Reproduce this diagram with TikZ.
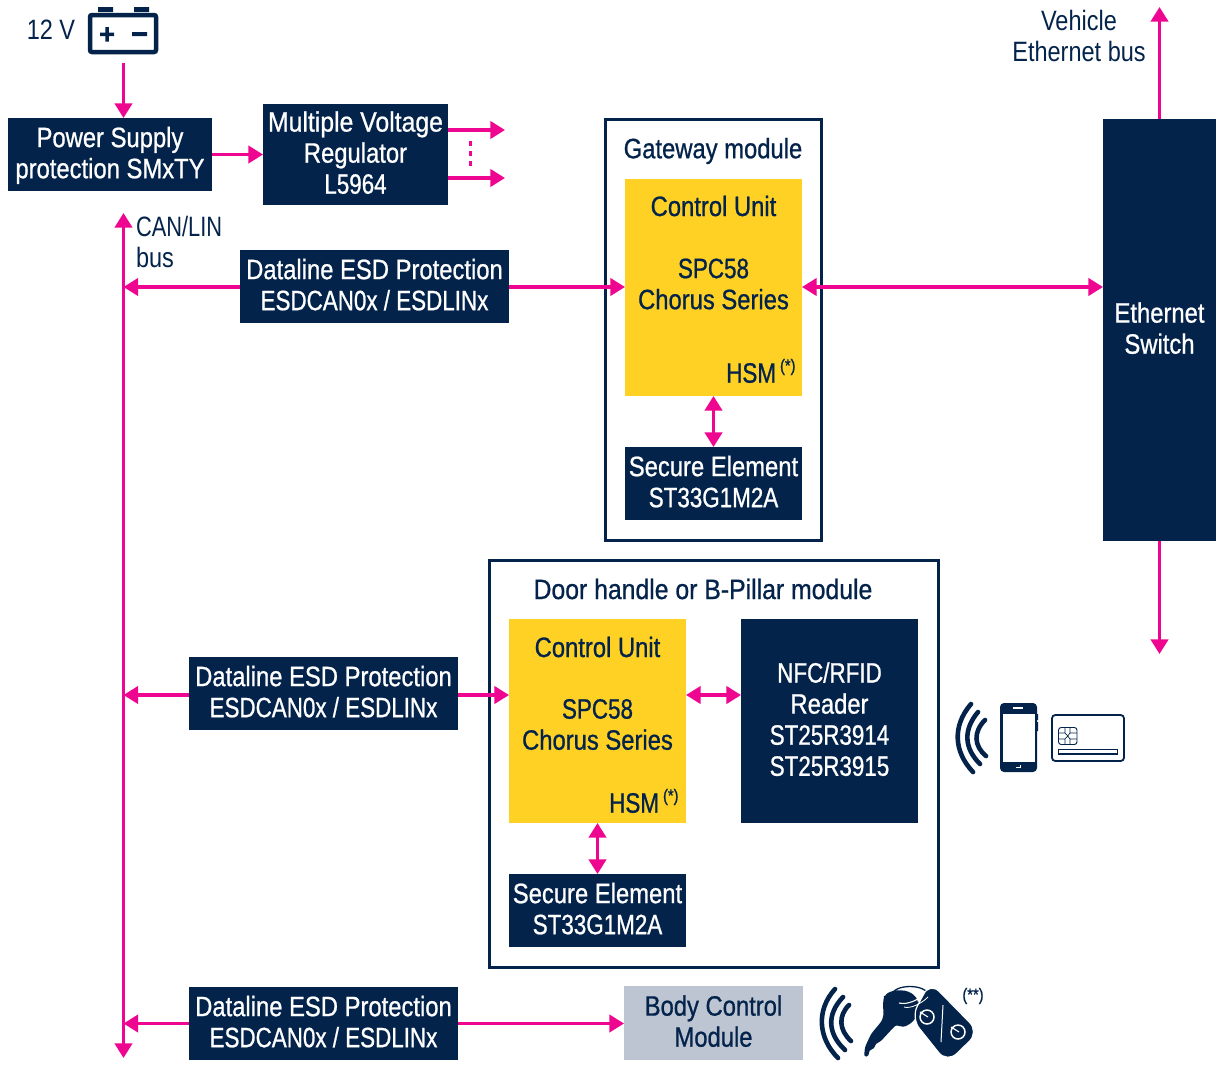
\documentclass[tikz,border=0pt]{standalone}
\usepackage{fontspec}
\usetikzlibrary{arrows.meta}
\setmainfont[FakeStretch=0.84]{Liberation Sans}
\newfontfamily\boxfont[FakeStretch=0.85,FakeBold=0.8]{Liberation Sans}
\newfontfamily\nar[FakeStretch=0.8,FakeBold=0.8]{Liberation Sans}
\newfontfamily\wid[FakeStretch=0.885,FakeBold=0.8]{Liberation Sans}
\newfontfamily\narplain[FakeStretch=0.78]{Liberation Sans}
\definecolor{navy}{HTML}{03234B}
\definecolor{gold}{HTML}{FFD124}
\definecolor{hotpink}{HTML}{EE0590}
\definecolor{greybox}{HTML}{BEC5D2}
\def\px{0.75pt}
\tikzset{
 x=0.75pt,y=-0.75pt,
 every node/.style={inner sep=0pt,outer sep=0pt},
 txt/.style={font=\fontsize{21}{23.3}\selectfont\boxfont,align=center},
 plain/.style={font=\fontsize{21}{23.3}\selectfont,text=navy},
 navybox/.style={txt,fill=navy,text=white,text depth=3pt,minimum width=#1*\px},
 goldbox/.style={fill=gold,minimum width=177*\px},
 frame/.style={draw=navy,line width=3*\px,fill=white},
 dark/.style={txt,text=navy},
 small/.style={font=\fontsize{13}{14}\selectfont\boxfont,text=navy},
 link/.style={draw=hotpink,line width=3.2*\px},
 one/.style={link,-{Triangle[length=11pt,width=13pt]}},
 both/.style={link,{Triangle[length=11pt,width=13pt]}-{Triangle[length=11pt,width=13pt]}},
 wave/.style={draw=navy,line width=4.6*\px,line cap=round},
}
\begin{document}
\begin{tikzpicture}
\useasboundingbox (0,0) rectangle (1219,1067);
% frames
\node[frame,minimum width=216*\px,minimum height=421*\px] (gw) at (713,329.5) {};
\node[frame,minimum width=449*\px,minimum height=407*\px] (door) at (713.5,763.5) {};
% boxes
\node[navybox=204,minimum height=73*\px] (psu) at (110,154.5) {Power Supply\\protection SMxTY};
\node[navybox=185,minimum height=101*\px] (mvr) at (355.5,154.5) {{\wid Multiple Voltage}\\Regulator\\{\nar L5964}};
\node[navybox=269,minimum height=73*\px] (esd1) at (374.5,286.5) {Dataline ESD Protection\\{\nar ESDCAN0x / ESDLINx}};
\node[navybox=269,minimum height=73*\px] (esd2) at (323.5,693.5) {Dataline ESD Protection\\{\nar ESDCAN0x / ESDLINx}};
\node[navybox=269,minimum height=73*\px] (esd3) at (323.5,1023.5) {Dataline ESD Protection\\{\nar ESDCAN0x / ESDLINx}};
\node[goldbox,minimum height=217*\px] (cu1) at (713.5,287.5) {};
\node[goldbox,minimum height=204*\px] (cu2) at (597.5,721) {};
\node[navybox=177,minimum height=73*\px] (se1) at (713.5,483.5) {Secure Element\\{\nar ST33G1M2A}};
\node[navybox=177,minimum height=73*\px] (se2) at (597.5,910.5) {Secure Element\\{\nar ST33G1M2A}};
\node[navybox=177,minimum height=204*\px] (nfc) at (829.5,721) {{\nar NFC/RFID}\\Reader\\{\nar ST25R3914}\\{\nar ST25R3915}};
\node[navybox=113,minimum height=422*\px] (eth) at (1159.5,330) {Ethernet\\Switch};
\node[txt,fill=greybox,text=navy,text depth=3pt,minimum width=179*\px,minimum height=74*\px] (bcm) at (713.5,1023) {Body Control\\Module};
% texts
\node[dark] (gwt) at (713,151) {Gateway module};
\node[dark] (doort) at (703,589) {\wid Door handle or B-Pillar module};
\node[dark] (cu1t) at (713.5,206) {Control Unit};
\node[dark] (cu1s) at (713.5,284) {{\nar SPC58}\\Chorus Series};
\node[dark,anchor=east] (hsm1) at (776,373) {\nar HSM};
\node[small,anchor=west] (hsm1s) at (780,367) {(*)};
\node[dark] (cu2t) at (597.5,647) {Control Unit};
\node[dark] (cu2s) at (597.5,724.5) {{\nar SPC58}\\Chorus Series};
\node[dark,anchor=east] (hsm2) at (659,803) {\nar HSM};
\node[small,anchor=west] (hsm2s) at (663,797) {(*)};
\node[plain] (volt) at (51,30) {12 V};
\node[plain,align=center] (veh) at (1079,36) {Vehicle\\Ethernet bus};
\node[plain,align=left,anchor=west] (can) at (136,242) {{\narplain CAN/LIN}\\bus};
\node[small] (keynote) at (973,996) {(**)};
% battery
\fill[navy] (98,7) rectangle (113,12) (134,7) rectangle (149,12);
\draw[navy,line width=4.5*\px,rounded corners=1.5pt,fill=white] (90,15) rectangle (156,52);
\fill[navy] (100,32.5) rectangle (114,36) (105.3,27) rectangle (108.8,41.5) (132,32) rectangle (147,36);
\coordinate (batt) at (123.5,63);
% coordinates
\coordinate (bustop) at (123.5,213);
\coordinate (busbot) at (123.5,1058);
\coordinate (row1) at (0,287);
\coordinate (row2) at (0,695);
\coordinate (vout1a) at (448,130); \coordinate (vout1b) at (505,130);
\coordinate (vout2a) at (448,178); \coordinate (vout2b) at (505,178);
\coordinate (dota) at (470,141); \coordinate (dotb) at (470,170);
\coordinate (ethup) at (1159.5,7);
\coordinate (ethdn) at (1159.5,654);
% connectors
\draw[one] (batt) -- (batt |- psu.north);
\draw[one] (psu.east) -- (psu.east -| mvr.west);
\draw[one] (vout1a) -- (vout1b);
\draw[one] (vout2a) -- (vout2b);
\draw[hotpink,line width=3*\px,dash pattern=on 3.8pt off 3.8pt] (dota) -- (dotb);
\draw[both] (busbot) -- (bustop);
\draw[one] (esd1.west |- row1) -- (bustop |- row1);
\draw[one] (esd2.west |- row2) -- (bustop |- row2);
\draw[one] (esd3.west) -- (esd3.west -| bustop);
\draw[one] (esd1.east |- row1) -- (cu1.west |- row1);
\draw[one] (esd2.east |- row2) -- (cu2.west |- row2);
\draw[one] (esd3.east) -- (esd3.east -| bcm.west);
\draw[both] (cu1.east |- row1) -- (eth.west |- row1);
\draw[both] (cu1.south) -- (se1.north);
\draw[both] (cu2.south) -- (se2.north);
\draw[both] (cu2.east |- row2) -- (nfc.west |- row2);
\draw[one] (eth.north) -- (ethup);
\draw[one] (eth.south) -- (ethdn);
% NFC waves
\draw[wave] (971,704) .. controls (952,726) and (954,752) .. (973,772);
\draw[wave] (978,712) .. controls (963,730) and (964,748) .. (980,764);
\draw[wave] (985,720) .. controls (973,732) and (974,746) .. (986,756);
% phone
\fill[navy,rounded corners=3pt] (1000,703) rectangle (1037,772);
\fill[navy] (1037,714) rectangle (1038.2,720) (1037,722) rectangle (1038.2,731);
\fill[white] (1002.5,713.5) rectangle (1034.5,761.5);
\fill[white] (1013,707) rectangle (1023,708.5);
\draw[white,line width=0.7pt] (1016,767) -- (1020,767) -- (1020,765);
% card
\draw[navy,line width=1.8*\px,rounded corners=2.5pt,fill=white] (1052,715) rectangle (1124,761);
\draw[navy,line width=0.7pt,rounded corners=2pt] (1058.5,727.5) rectangle (1077,744.5);
\draw[navy,line width=0.5pt] (1058.5,733) -- (1065,733) -- (1067.7,736) -- (1070,733) -- (1077,733)
  (1058.5,739) -- (1065,739) -- (1067.7,736) -- (1070,739) -- (1077,739)
  (1065,727.5) -- (1065,733) (1070,727.5) -- (1070,733) (1065,739) -- (1065,744.5) (1070,739) -- (1070,744.5);
\draw[navy,line width=1.3*\px] (1058.5,749.5) rectangle (1117.5,754);
% key waves
\draw[wave] (835,989) .. controls (816,1010) and (818,1038) .. (838,1058);
\draw[wave] (843,997) .. controls (826,1015) and (828,1034) .. (845,1050);
\draw[wave] (849,1005) .. controls (838,1016) and (839,1030) .. (851,1041);
% key
\draw[navy,line width=1.3*\px] (910,995) ellipse (18 and 8.5);
\fill[navy,rounded corners=2pt] (884,998) .. controls (888,990) and (904,988) .. (914,995)
  .. controls (920,1002) and (919,1018) .. (908,1025) .. controls (902,1028) and (897,1024) .. (893,1028)
  -- (880,1042) -- (876,1043) -- (874,1049) -- (869,1050) -- (869,1056) -- (864,1057) -- (865,1047)
  -- (871,1034) -- (881,1022) .. controls (885,1014) and (882,1006) .. (884,998) -- cycle;
% fob
\draw[white,line width=1.2*\px,fill=navy,rounded corners=10pt] (930,982) -- (979,1032) -- (947,1063) -- (911,1018) -- cycle;
\draw[white,line width=1.1*\px] (899,1003) .. controls (908,1005) and (918,1000) .. (924,994);
\draw[white,line width=0.8*\px] (904,1007) .. controls (910,1009) and (921,1004) .. (928,997);
\draw[white,line width=1*\px] (943,1005) -- (941,1042);
\draw[white,line width=1.5*\px] (927,1017) circle (7) (958,1032) circle (7);
\draw[white,line width=1.1*\px] (920,1012) -- (928,1017) (951,1027) -- (959,1032);
\end{tikzpicture}
\end{document}
